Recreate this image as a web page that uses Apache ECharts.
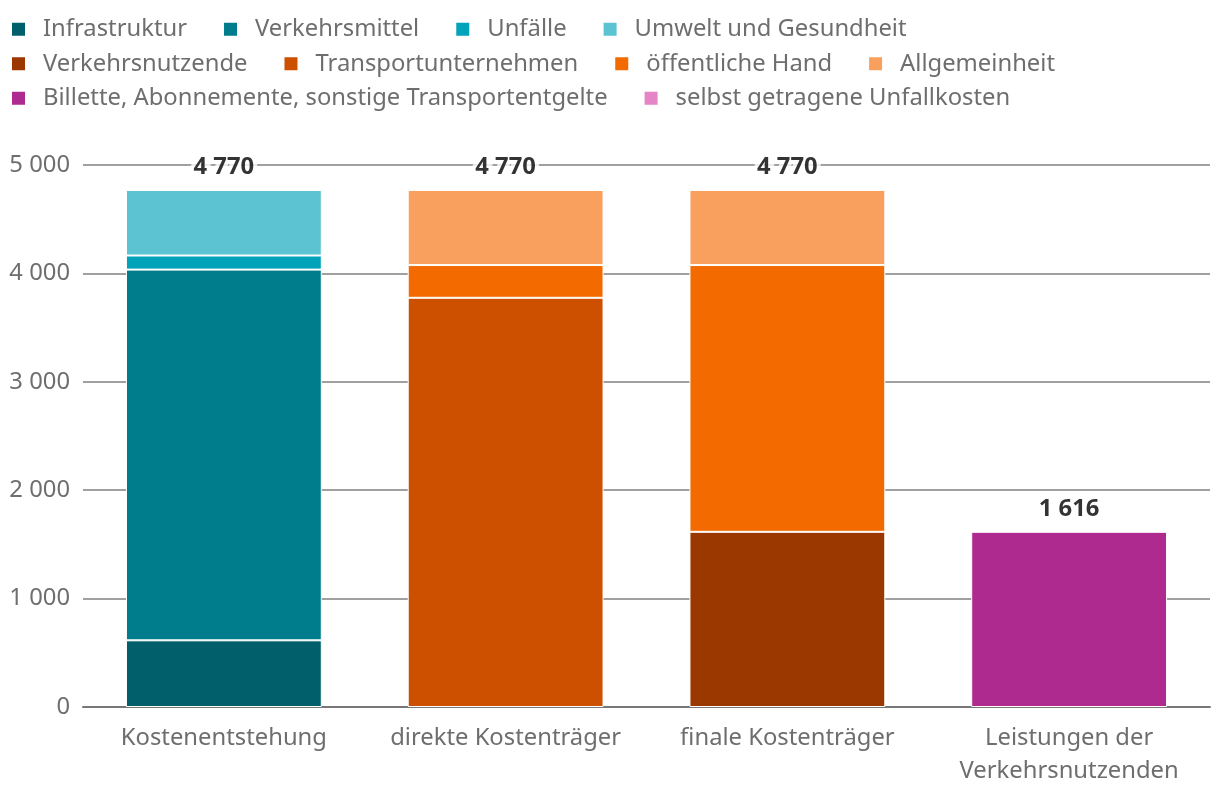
<!DOCTYPE html>
<html>
<head>
<meta charset="utf-8">
<script src="https://cdn.jsdelivr.net/npm/echarts@6/dist/echarts.min.js"></script>
<style>
  html, body { margin: 0; padding: 0; background: #fff; }
  #chart { width: 1220px; height: 804px; }
</style>
</head>
<body>
<div id="chart"></div>
<script>
// Kategorien (x-Achse)
const categories = ['Kostenentstehung', 'direkte Kostenträger', 'finale Kostenträger', 'Leistungen der\nVerkehrsnutzenden'];

// Werte je Segment, pro Kategorie (null = nicht vorhanden)
const infrastruktur = [615, null, null, null];
const verkehrsmittel = [3420, null, null, null];
const unfaelle = [130, null, null, null];
const umwelt = [605, null, null, null];
const verkehrsnutzende = [null, null, 1616, null];
const transportunternehmen = [null, 3775, null, null];
const oeffentlicheHand = [null, 302, 2461, null];
const allgemeinheit = [null, 693, 693, null];
const billette = [null, null, null, 1616];
const unfallkosten = [null, null, null, null];

const yTicks = [0, 1000, 2000, 3000, 4000, 5000];

const seriesDefs = [
  { name: 'Infrastruktur', data: infrastruktur, color: '#005f6b' },
  { name: 'Verkehrsmittel', data: verkehrsmittel, color: '#007d8d' },
  { name: 'Unfälle', data: unfaelle, color: '#00a3b9' },
  { name: 'Umwelt und Gesundheit', data: umwelt, color: '#5bc3d1' },
  { name: 'Verkehrsnutzende', data: verkehrsnutzende, color: '#9a3800' },
  { name: 'Transportunternehmen', data: transportunternehmen, color: '#cc5000' },
  { name: 'öffentliche Hand', data: oeffentlicheHand, color: '#f36b00' },
  { name: 'Allgemeinheit', data: allgemeinheit, color: '#f9a05f' },
  { name: 'Billette, Abonnemente, sonstige Transportentgelte', data: billette, color: '#ae2a8e' },
  { name: 'selbst getragene Unfallkosten', data: unfallkosten, color: '#e585c8' }
];

// Summen je Kategorie
const totals = categories.map((_, i) =>
  seriesDefs.reduce((sum, s) => sum + (s.data[i] || 0), 0)
);

// Tausendertrennzeichen mit Leerzeichen
function fmt(v) {
  return String(Math.round(v)).replace(/\B(?=(\d{3})+(?!\d))/g, '\u00a0');
}

const FONT = 'Noto Sans';
const GREY = '#6e6e6e';

const chart = echarts.init(document.getElementById('chart'));

const series = seriesDefs.map(s => ({
  name: s.name,
  type: 'bar',
  stack: 'total',
  data: s.data,
  barCategoryGap: '30.5%',
  itemStyle: {
    color: s.color,
    borderColor: '#ffffff',
    borderWidth: 1
  }
}));

// Summen-Beschriftung oberhalb der Säulen
series.push({
  name: 'Summe',
  type: 'scatter',
  data: totals,
  symbolSize: 0,
  silent: true,
  z: 10,
  label: {
    show: true,
    position: 'top',
    distance: 11,
    formatter: p => fmt(p.value),
    fontFamily: FONT,
    fontSize: 23.8,
    fontWeight: 'bold',
    color: '#000',
    textBorderColor: '#fff',
    textBorderWidth: 8
  }
});

const option = {
  animation: false,
  backgroundColor: '#fff',
  legend: {
    left: 10,
    top: 17,
    padding: 0,
    width: 1100,
    data: seriesDefs.map(s => s.name),
    icon: 'rect',
    itemWidth: 15,
    itemHeight: 15,
    itemGap: 10,
    textStyle: {
      fontFamily: FONT,
      fontSize: 23.8,
      color: GREY,
      lineHeight: 24.5,
      padding: [0, 25, 0, 12]
    }
  },
  grid: {
    left: 83,
    right: 10,
    top: 165,
    bottom: 97
  },
  xAxis: {
    type: 'category',
    data: categories,
    axisTick: { show: false },
    axisLine: { lineStyle: { color: '#777', width: 2 } },
    axisLabel: {
      interval: 0,
      fontFamily: FONT,
      fontSize: 23.8,
      color: GREY,
      margin: 15,
      lineHeight: 33
    }
  },
  yAxis: {
    type: 'value',
    min: yTicks[0],
    max: yTicks[yTicks.length - 1],
    interval: 1000,
    axisLine: { show: false },
    axisTick: { show: false },
    splitLine: { lineStyle: { color: '#808080', width: 1.5 } },
    axisLabel: {
      fontFamily: FONT,
      fontSize: 23.8,
      color: GREY,
      margin: 13,
      formatter: v => fmt(v)
    }
  },
  series
};

chart.setOption(option);
</script>
</body>
</html>
